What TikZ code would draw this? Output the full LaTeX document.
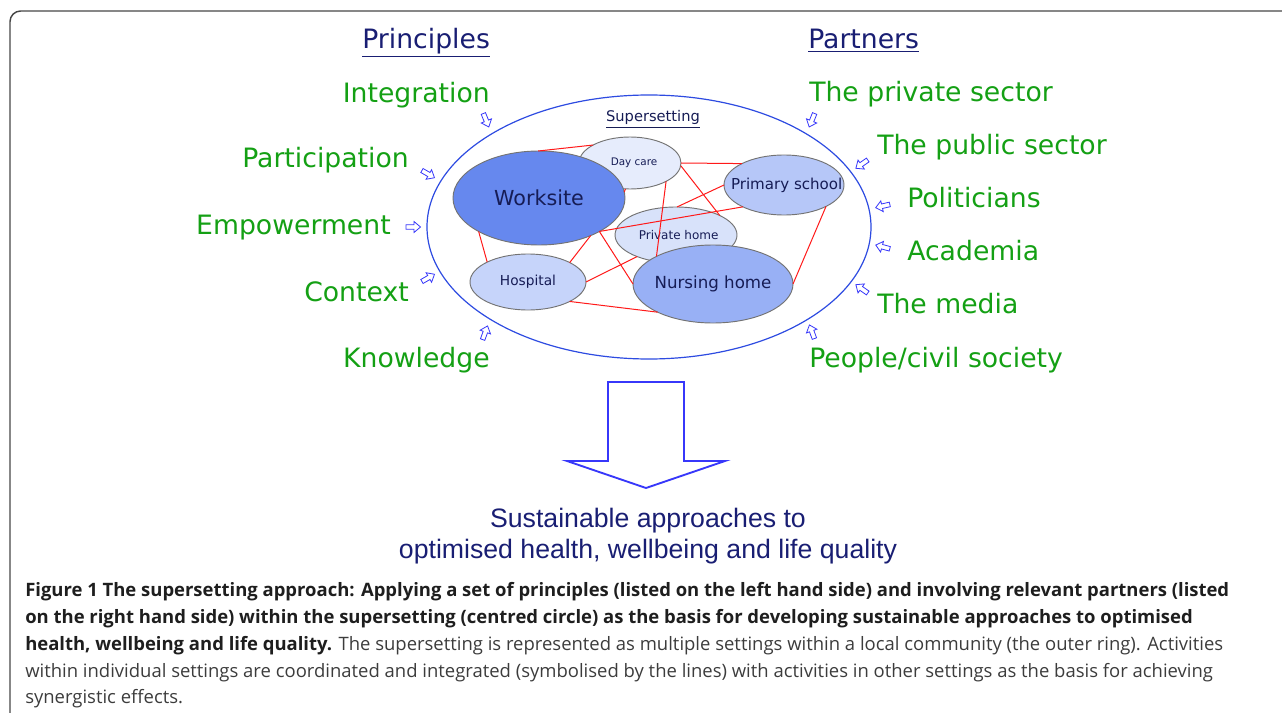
\documentclass[tikz,border=0pt]{standalone}
\usepackage{fontspec}
\setmainfont{DejaVu Sans}
\newfontfamily\arialf{Liberation Sans}
\newfontfamily\capf{Open Sans}
\usetikzlibrary{shapes.geometric}
\definecolor{grn}{RGB}{20,160,20}
\definecolor{navy}{RGB}{25,30,115}
\definecolor{inkn}{RGB}{22,28,85}
\definecolor{ablue}{RGB}{55,55,250}
\definecolor{oblue}{RGB}{45,75,225}
\definecolor{framec}{RGB}{70,70,70}
\definecolor{capbold}{RGB}{30,30,30}
\definecolor{capreg}{RGB}{60,60,60}
\definecolor{cws}{RGB}{102,136,238}
\definecolor{cdc}{RGB}{230,236,252}
\definecolor{cps}{RGB}{182,199,248}
\definecolor{cph}{RGB}{216,226,250}
\definecolor{chs}{RGB}{198,212,250}
\definecolor{cnh}{RGB}{152,176,245}
\newcommand{\zb}[1]{\makebox[0pt]{#1}}
\tikzset{
  lbl/.style={text=grn, font=\fontsize{20pt}{24pt}\selectfont, inner sep=0pt},
  head/.style={text=navy, font=\fontsize{20pt}{24pt}\selectfont, inner sep=0pt, anchor=base west},
  setting/.style={shape=ellipse, draw=gray!90!black, line width=0.7pt, inner sep=0pt, outer sep=0pt, text=inkn},
  redl/.style={draw=red!90!white, line width=0.75pt},
  capline/.style={anchor=base west, inner sep=0pt, font=\capf\fontsize{13.85pt}{17pt}\selectfont},
  bottomtext/.style={anchor=base, inner sep=0pt, text=navy, font=\arialf\fontsize{20pt}{24pt}\selectfont},
  sarrow/.pic={\draw[ablue, line width=0.6pt, fill=white, line join=miter]
     (-7,-2.3) -- (1,-2.3) -- (1,-5.5) -- (7.5,0) -- (1,5.5) -- (1,2.3) -- (-7,2.3) -- cycle;}
}
\begin{document}
\begin{tikzpicture}[x=0.75pt,y=-0.75pt]
\useasboundingbox (0,0) rectangle (1282,713);
% frame
\draw[framec, line width=1.1pt, rounded corners=8pt] (10,713) -- (10,11) -- (1282,11);

% headings
\node[head] (hprin) at (362,49) {\underline{Principles}};
\node[head] (hpart) at (808,49) {\underline{Partners}};

% left labels
\node[lbl, anchor=base east] (lint) at (490,103) {Integration};
\node[lbl, anchor=base east] (lpar) at (409,168) {Participation};
\node[lbl, anchor=base east] (lemp) at (391,234) {Empowerment};
\node[lbl, anchor=base east] (lcon) at (409,301) {Context};
\node[lbl, anchor=base east] (lkno) at (490,367) {Knowledge};
% right labels
\node[lbl, anchor=base west] (rpri) at (809,102) {The private sector};
\node[lbl, anchor=base west] (rpub) at (877,155) {The public sector};
\node[lbl, anchor=base west] (rpol) at (907,208) {Politicians};
\node[lbl, anchor=base west] (raca) at (907,261) {Academia};
\node[lbl, anchor=base west] (rmed) at (877,313) {The media};
\node[lbl, anchor=base west] (rpeo) at (809,367) {People/civil society};

% small arrows
\pic[rotate=-68] at (486,120) {sarrow};
\pic[rotate=-30] at (428,174) {sarrow};
\pic[rotate=0]   at (413,227) {sarrow};
\pic[rotate=30]  at (428,278) {sarrow};
\pic[rotate=70]  at (485,333) {sarrow};
\pic[rotate=-112] at (812,120) {sarrow};
\pic[rotate=-145] at (862,164) {sarrow};
\pic[rotate=-167] at (883,206) {sarrow};
\pic[rotate=165] at (883,247) {sarrow};
\pic[rotate=145] at (862,289) {sarrow};
\pic[rotate=110] at (812,332) {sarrow};

% outer ring
\node[shape=ellipse, draw=oblue, line width=0.9pt, inner sep=0pt, minimum width=444*0.75pt, minimum height=264*0.75pt] (outer) at (649,227) {};
\node[anchor=base, inner sep=0pt, text=inkn, font=\fontsize{11pt}{13pt}\selectfont] (sup) at (653,122) {\underline{Supersetting}};

% settings
\node[setting, fill=cdc, minimum width=102*0.75pt, minimum height=52*0.75pt, font=\fontsize{7.8pt}{9pt}\selectfont] (dc) at (630,163) {\zb{\hspace*{6pt}Day care}};
\node[setting, fill=cws, minimum width=172*0.75pt, minimum height=94*0.75pt, font=\fontsize{15.5pt}{18pt}\selectfont] (ws) at (539,198) {\zb{Worksite}};
\node[setting, fill=cps, minimum width=120*0.75pt, minimum height=60*0.75pt, font=\fontsize{11.3pt}{13pt}\selectfont] (ps) at (784,185) {\zb{\hspace*{4pt}Primary school}};
\node[setting, fill=cph, minimum width=122*0.75pt, minimum height=56*0.75pt, font=\fontsize{9pt}{11pt}\selectfont] (ph) at (676,235) {\zb{\hspace*{4pt}Private home}};
\node[setting, fill=chs, minimum width=116*0.75pt, minimum height=56*0.75pt, font=\fontsize{10.3pt}{12pt}\selectfont] (hs) at (528,282) {\zb{Hospital}};
\node[setting, fill=cnh, minimum width=160*0.75pt, minimum height=78*0.75pt, font=\fontsize{12.5pt}{15pt}\selectfont] (nh) at (713,284) {\zb{Nursing home}};

% connecting lines
\draw[redl] (ws.91) -- (dc.154);
\draw[redl] (dc.0) -- (ps.153);
\draw[redl] (dc.-3) -- (ph.24);
\draw[redl] (dc.-27) -- (nh.154);
\draw[redl] (ps.180) -- (ph.88);
\draw[redl] (ps.-152) -- (ws.-29);
\draw[redl] (ps.-27) -- (nh.0);
\draw[redl] (ws.-151) -- (hs.154);
\draw[redl] (ws.-36) -- (hs.25);
\draw[redl] (ws.-29) -- (nh.180);
\draw[redl] (hs.0) -- (ph.-151);
\draw[redl] (hs.-25) -- (nh.-153);
\draw[redl] (ws.4) -- (dc.-100);

% big arrow
\draw[ablue, line width=1.4pt, fill=white, line join=miter]
  (608,382) -- (684,382) -- (684,461) -- (725,461) -- (646,488) -- (567,461) -- (608,461) -- cycle;

% outcome text
\node[bottomtext] (out1) at (648,527) {Sustainable approaches to};
\node[bottomtext] (out2) at (648,558) {optimised health, wellbeing and life quality};

% caption
\node[capline, text=capbold] (c1) at (25,596) {\bfseries Figure 1 The supersetting approach: Applying a set of principles (listed on the left hand side) and involving relevant partners (listed};
\node[capline, text=capbold] (c2) at (25,623) {\bfseries on the right hand side) within the supersetting (centred circle) as the basis for developing sustainable approaches to optimised};
\node[capline, text=capreg] (c3) at (25,650) {\textcolor{capbold}{\bfseries health, wellbeing and life quality.} The supersetting is represented as multiple settings within a local community (the outer ring). Activities};
\node[capline, text=capreg] (c4) at (25,677) {within individual settings are coordinated and integrated (symbolised by the lines) with activities in other settings as the basis for achieving};
\node[capline, text=capreg] (c5) at (25,703) {synergistic effects.};
\end{tikzpicture}
\end{document}
